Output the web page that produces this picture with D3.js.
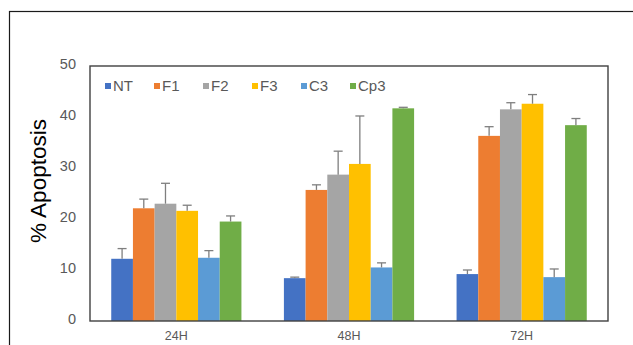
<!DOCTYPE html>
<html>
<head>
<meta charset="utf-8">
<script src="https://cdn.jsdelivr.net/npm/d3@7"></script>
<style>
  html, body { margin: 0; padding: 0; background: #fff; }
  svg { display: block; font-family: "Liberation Sans", Arial, sans-serif; }
</style>
</head>
<body>
<svg id="chart" width="633" height="345"></svg>
<script>
// Time points and treatment groups
const timepoints = ["24H", "48H", "72H"];
const groups = ["NT", "F1", "F2", "F3", "C3", "Cp3"];
const groupColors = ["#4472C4", "#ED7D31", "#A5A5A5", "#FFC000", "#5B9BD5", "#70AD47"];

// Mean % apoptosis per group, one entry per time point
const NT  = [12.2, 8.4, 9.2];
const F1  = [22.1, 25.7, 36.3];
const F2  = [23.0, 28.7, 41.5];
const F3  = [21.6, 30.8, 42.6];
const C3  = [12.4, 10.5, 8.6];
const Cp3 = [19.5, 41.7, 38.4];

// Upper error (SD) per group, one entry per time point
const NT_err  = [2.0, 0.2, 0.8];
const F1_err  = [1.8, 1.0, 1.8];
const F2_err  = [4.0, 4.6, 1.3];
const F3_err  = [1.1, 9.4, 1.8];
const C3_err  = [1.4, 0.9, 1.6];
const Cp3_err = [1.1, 0.2, 1.3];

const yTicks = [0, 10, 20, 30, 40, 50];

const means = [NT, F1, F2, F3, C3, Cp3];
const errs = [NT_err, F1_err, F2_err, F3_err, C3_err, Cp3_err];

const rows = [];
timepoints.forEach((t, ti) => {
  groups.forEach((g, gi) => {
    rows.push({ t, g, gi, value: means[gi][ti], err: errs[gi][ti] });
  });
});

const svg = d3.select("#chart");
const plot = { left: 90, top: 66, right: 608, bottom: 321 };

// Outer chart border (runs off the right and bottom edges)
svg.append("rect")
  .attr("x", 9.5).attr("y", 11.5)
  .attr("width", 700).attr("height", 400)
  .attr("fill", "none").attr("stroke", "#1a1a1a").attr("stroke-width", 1.2);

const x0 = d3.scaleBand().domain(timepoints).range([plot.left, plot.right]).paddingInner(0.246).paddingOuter(0.123);
const x1 = d3.scaleBand().domain(groups).range([0, x0.bandwidth()]).padding(0);
const y = d3.scaleLinear().domain([0, 50]).range([plot.bottom, plot.top]);

// Bars
svg.append("g").selectAll("rect")
  .data(rows)
  .join("rect")
  .attr("x", d => x0(d.t) + x1(d.g))
  .attr("y", d => y(d.value))
  .attr("width", x1.bandwidth())
  .attr("height", d => y(0) - y(d.value))
  .attr("fill", d => groupColors[d.gi]);

// Upper error bars with caps
const eb = svg.append("g").attr("stroke", "#7f7f7f").attr("stroke-width", 1.3);
eb.selectAll("line.v")
  .data(rows)
  .join("line")
  .attr("class", "v")
  .attr("x1", d => x0(d.t) + x1(d.g) + x1.bandwidth() / 2)
  .attr("x2", d => x0(d.t) + x1(d.g) + x1.bandwidth() / 2)
  .attr("y1", d => y(d.value))
  .attr("y2", d => y(d.value + d.err));
eb.selectAll("line.c")
  .data(rows)
  .join("line")
  .attr("class", "c")
  .attr("x1", d => x0(d.t) + x1(d.g) + x1.bandwidth() / 2 - 4.5)
  .attr("x2", d => x0(d.t) + x1(d.g) + x1.bandwidth() / 2 + 4.5)
  .attr("y1", d => y(d.value + d.err))
  .attr("y2", d => y(d.value + d.err));

// Plot area frame
svg.append("rect")
  .attr("x", plot.left).attr("y", plot.top)
  .attr("width", plot.right - plot.left).attr("height", plot.bottom - plot.top)
  .attr("fill", "none").attr("stroke", "#404040").attr("stroke-width", 1.4);

// Y axis labels
const yAxis = d3.axisLeft(y).tickValues(yTicks).tickSize(0).tickPadding(14);
const yg = svg.append("g").attr("transform", `translate(${plot.left},0)`).call(yAxis);
yg.select(".domain").remove();
yg.selectAll("text").attr("fill", "#595959").style("font-size", "14.5px")
  .attr("dy", "0.2em");

// X axis labels
const xAxis = d3.axisBottom(x0).tickSize(0).tickPadding(10);
const xg = svg.append("g").attr("transform", `translate(0,${plot.bottom})`).call(xAxis);
xg.select(".domain").remove();
xg.selectAll("text").attr("fill", "#595959").style("font-size", "12.5px");

// Y axis title
svg.append("text")
  .attr("transform", "translate(46,181) rotate(-90)")
  .attr("text-anchor", "middle")
  .style("font-size", "22.5px")
  .attr("fill", "#000")
  .text("% Apoptosis");

// Legend
const legend = svg.append("g").attr("transform", "translate(105,86)");
const item = legend.selectAll("g").data(groups).join("g")
  .attr("transform", (d, i) => `translate(${i * 49},0)`);
item.append("rect").attr("x", 0).attr("y", -3).attr("width", 6).attr("height", 6)
  .attr("fill", (d, i) => groupColors[i]);
item.append("text").attr("x", 8).attr("y", 0).attr("dy", "0.36em")
  .attr("fill", "#595959").style("font-size", "15px").text(d => d);
</script>
</body>
</html>
